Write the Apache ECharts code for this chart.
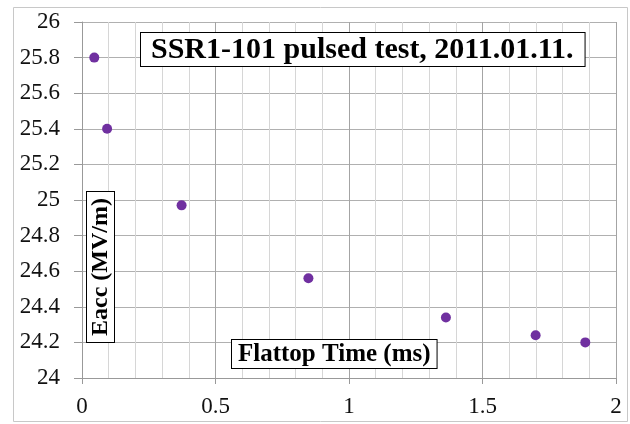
<!DOCTYPE html>
<html>
<head>
<meta charset="utf-8">
<script src="https://cdn.jsdelivr.net/npm/echarts@6/dist/echarts.min.js"></script>
<style>
    html, body { margin: 0; padding: 0; background: #fff; }
    #chart { width: 630px; height: 424px; }
</style>
</head>
<body>
<div id="chart"></div>
<script>
// 数据
const flattopTime = [0.046, 0.094, 0.373, 0.848, 1.363, 1.699, 1.885];
const eacc = [25.80, 25.40, 24.97, 24.56, 24.34, 24.24, 24.20];
const chartTitle = 'SSR1-101 pulsed test, 2011.01.11.';
const xTitle = 'Flattop Time (ms)';
const yTitle = 'Eacc (MV/m)';

const serif = '"Liberation Serif", "Times New Roman", serif';

// 带框的文字
function boxedText (text, x, y, size, padding, rotation) {
    return {
        type: 'text',
        x: x,
        y: y,
        rotation: rotation || 0,
        z: 100,
        style: {
            text: text,
            font: 'bold ' + size + 'px ' + serif,
            fill: '#000',
            backgroundColor: '#fff',
            borderColor: '#000',
            borderWidth: 1,
            padding: padding
        }
    };
}

let chart = echarts.init(document.getElementById('chart'));

chart.setOption({
    animation: false,
    backgroundColor: '#fff',
    grid: { left: 82, right: 14, top: 22, bottom: 46 },
    xAxis: {
        type: 'value',
        min: 0,
        max: 2,
        interval: 0.5,
        axisLine: { show: true, lineStyle: { color: '#999', width: 1 } },
        axisTick: { show: true, length: 6, lineStyle: { color: '#999' } },
        axisLabel: {
            margin: 17,
            fontFamily: serif,
            fontSize: 23,
            color: '#111',
            formatter: v => String(v)
        },
        splitLine: { show: true, lineStyle: { color: '#a4a4a4', width: 1 } },
        minorTick: { show: false, splitNumber: 5 },
        minorSplitLine: { show: true, lineStyle: { color: '#d6d6d6', width: 1 } }
    },
    yAxis: {
        type: 'value',
        min: 24,
        max: 26,
        interval: 0.2,
        axisLine: { show: true, lineStyle: { color: '#999', width: 1 } },
        axisTick: { show: true, length: 8, inside: false, lineStyle: { color: '#999' } },
        axisLabel: {
            margin: 22,
            fontFamily: serif,
            fontSize: 23,
            color: '#111',
            formatter: v => String(Math.round(v * 10) / 10)
        },
        splitLine: { show: true, lineStyle: { color: '#b0b0b0', width: 1 } }
    },
    series: [{
        type: 'scatter',
        data: flattopTime.map((t, i) => [t, eacc[i]]),
        symbol: 'circle',
        symbolSize: 10,
        itemStyle: { color: '#7030a0', opacity: 1 }
    }],
    graphic: [
        {
            type: 'rect',
            shape: { x: 13.5, y: 7.5, width: 614, height: 414 },
            style: { fill: 'none', stroke: '#c8c8c8', lineWidth: 1 },
            silent: true
        },
        boxedText(chartTitle, 141, 33, 30, [2, 11, 1, 10]),
        boxedText(xTitle, 232, 340, 25, [2, 6, 1, 6]),
        boxedText(yTitle, 87, 342, 24, [2, 6, 1, 6], Math.PI / 2)
    ]
});
</script>
</body>
</html>
